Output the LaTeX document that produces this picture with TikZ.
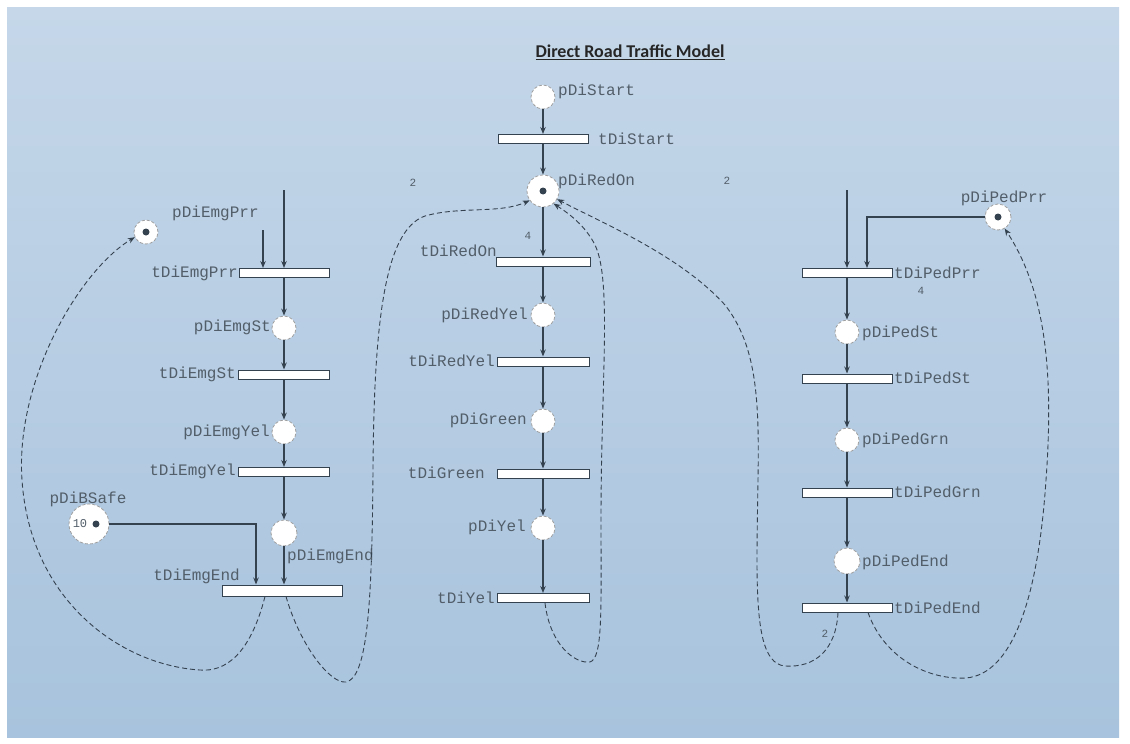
\documentclass[tikz,border=0pt]{standalone}
\usepackage{fontspec}
\setmainfont{Liberation Serif}
\newfontfamily\labelfont{Liberation Mono}
\newfontfamily\titlefont{Carlito}
\usetikzlibrary{arrows.meta}
\definecolor{ink}{HTML}{34414F}
\definecolor{bgtop}{HTML}{C5D7E9}
\definecolor{bgbot}{HTML}{A8C3DD}
\begin{document}
\begin{tikzpicture}[x=1pt,y=-1pt,
  pnode/.style={circle,draw=gray!75,densely dashed,fill=white,minimum size=24pt,inner sep=0pt,line width=0.8pt},
  tbar/.style={rectangle,draw=ink,fill=white,minimum width=90pt,minimum height=9pt,inner sep=0pt,line width=1pt},
  flow/.style={draw=ink,line width=1.1pt,-{Stealth[length=7pt,width=5.5pt]}},
  backflow/.style={flow,dash pattern=on 5pt off 3pt,line width=0.9pt},
  lbl/.style={font=\labelfont\fontsize{16}{16}\selectfont,text=ink!85,inner sep=1pt},
  wlbl/.style={font=\labelfont\fontsize{11}{11}\selectfont,text=ink!85,inner sep=1pt},
  tok/.style={circle,fill=ink,minimum size=7pt,inner sep=0pt}]

% page and background panel
\useasboundingbox (0,0) rectangle (1130,744);
\fill[white] (0,0) rectangle (1130,744);
\shade[top color=bgtop,bottom color=bgbot] (7,7) rectangle (1119,737);

% title
\node[font=\titlefont\fontsize{18}{18}\selectfont\bfseries,text=black!85] (title) at (630,52) {\underline{Direct Road Traffic Model}};

% ---------- centre column: main signal cycle ----------
\node[pnode] (pStart) at (543,97) {};
\node[tbar] (tStart) at (543,139) {};
\node[pnode,minimum size=32pt] (pRedOn) at (543,191) {};
\node[tbar,minimum width=94pt] (tRedOn) at (543,261.5) {};
\node[pnode] (pRedYel) at (543,315) {};
\node[tbar,minimum width=92pt] (tRedYel) at (543,361.5) {};
\node[pnode] (pGreen) at (543,421) {};
\node[tbar,minimum width=92pt] (tGreen) at (543,473.5) {};
\node[pnode] (pYel) at (543,528) {};
\node[tbar,minimum width=92pt] (tYel) at (543,598) {};
\node[tok] (kRedOn) at (pRedOn) {};

\node[lbl,anchor=west] (lpStart) at (557,91) {pDiStart};
\node[lbl,anchor=west] (ltStart) at (597,139) {tDiStart};
\node[lbl,anchor=west] (lpRedOn) at (557,181) {pDiRedOn};
\node[lbl,anchor=east] (ltRedOn) at (498,251) {tDiRedOn};
\node[lbl,anchor=east] (lpRedYel) at (529,315) {pDiRedYel};
\node[lbl,anchor=east] (ltRedYel) at (496,361) {tDiRedYel};
\node[lbl,anchor=east] (lpGreen) at (528,420) {pDiGreen};
\node[lbl,anchor=east] (ltGreen) at (486,473) {tDiGreen};
\node[lbl,anchor=east] (lpYel) at (527,527) {pDiYel};
\node[lbl,anchor=east] (ltYel) at (496,598) {tDiYel};

\draw[flow] (pStart) -- (tStart);
\draw[flow] (tStart) -- (pRedOn);
\draw[flow] (pRedOn) -- (tRedOn);
\draw[flow] (tRedOn) -- (pRedYel);
\draw[flow] (pRedYel) -- (tRedYel);
\draw[flow] (tRedYel) -- (pGreen);
\draw[flow] (pGreen) -- (tGreen);
\draw[flow] (tGreen) -- (pYel);
\draw[flow] (pYel) -- (tYel);

% ---------- left column: emergency priority ----------
\coordinate (inL) at (284,190);
\coordinate (inL2) at (263,230);
\node[pnode] (pEmgPrr) at (146,232) {};
\node[tok] (kEmgPrr) at (pEmgPrr) {};
\node[tbar] (tEmgPrr) at (284,273) {};
\node[pnode] (pEmgSt) at (284,328) {};
\node[tbar,minimum width=91pt] (tEmgSt) at (284,374.5) {};
\node[pnode] (pEmgYel) at (284,432) {};
\node[tbar,minimum width=91pt] (tEmgYel) at (284,472) {};
\node[pnode,minimum size=26pt] (pEmgEnd) at (284,533) {};
\node[tbar,minimum width=120pt,minimum height=11pt] (tEmgEnd) at (282,590.5) {};
\node[pnode,minimum size=40pt] (pBSafe) at (89,524) {};
\node[lbl,font=\labelfont\fontsize{12}{12}\selectfont] (nBSafe) at ([xshift=-9]pBSafe.center) {10};
\node[tok] (kBSafe) at ([xshift=7]pBSafe.center) {};

\node[lbl,anchor=west] (lpEmgPrr) at (171,213) {pDiEmgPrr};
\node[lbl,anchor=east] (ltEmgPrr) at (239,273) {tDiEmgPrr};
\node[lbl,anchor=east] (lpEmgSt) at (272,327) {pDiEmgSt};
\node[lbl,anchor=east] (ltEmgSt) at (237,374) {tDiEmgSt};
\node[lbl,anchor=east] (lpEmgYel) at (271,432) {pDiEmgYel};
\node[lbl,anchor=east] (ltEmgYel) at (237,471) {tDiEmgYel};
\node[lbl,anchor=west] (lpEmgEnd) at (286,556) {pDiEmgEnd};
\node[lbl,anchor=east] (ltEmgEnd) at (241,576) {tDiEmgEnd};
\node[lbl] (lpBSafe) at (88,499) {pDiBSafe};

\draw[flow] (inL) -- (inL |- tEmgPrr.north);
\draw[flow] (inL2) -- (inL2 |- tEmgPrr.north);
\draw[flow] (tEmgPrr) -- (pEmgSt);
\draw[flow] (pEmgSt) -- (tEmgSt);
\draw[flow] (tEmgSt) -- (pEmgYel);
\draw[flow] (pEmgYel) -- (tEmgYel);
\draw[flow] (tEmgYel) -- (pEmgEnd);
\draw[flow] (pEmgEnd) -- (pEmgEnd |- tEmgEnd.north);
\draw[flow] (pBSafe.east) -| ([xshift=-26]tEmgEnd.north);

% ---------- right column: pedestrian priority ----------
\coordinate (inR) at (847,190);
\node[pnode,minimum size=26pt] (pPedPrr) at (998,217) {};
\node[tok] (kPedPrr) at (pPedPrr) {};
\node[tbar] (tPedPrr) at (847,273) {};
\node[pnode] (pPedSt) at (847,332) {};
\node[tbar] (tPedSt) at (847,378.5) {};
\node[pnode] (pPedGrn) at (847,440) {};
\node[tbar] (tPedGrn) at (847,492.5) {};
\node[pnode,minimum size=26pt] (pPedEnd) at (847,561) {};
\node[tbar] (tPedEnd) at (847,607.5) {};

\node[lbl] (lpPedPrr) at (1004,198) {pDiPedPrr};
\node[lbl,anchor=west] (ltPedPrr) at (893,273) {tDiPedPrr};
\node[lbl,anchor=west] (lpPedSt) at (861,333) {pDiPedSt};
\node[lbl,anchor=west] (ltPedSt) at (893,378) {tDiPedSt};
\node[lbl,anchor=west] (lpPedGrn) at (861,440) {pDiPedGrn};
\node[lbl,anchor=west] (ltPedGrn) at (893,492) {tDiPedGrn};
\node[lbl,anchor=west] (lpPedEnd) at (861,562) {pDiPedEnd};
\node[lbl,anchor=west] (ltPedEnd) at (893,608) {tDiPedEnd};

\draw[flow] (inR) -- (inR |- tPedPrr.north);
\draw[flow] (pPedPrr.west) -| ([xshift=20]tPedPrr.north);
\draw[flow] (tPedPrr) -- (pPedSt);
\draw[flow] (pPedSt) -- (tPedSt);
\draw[flow] (tPedSt) -- (pPedGrn);
\draw[flow] (pPedGrn) -- (tPedGrn);
\draw[flow] (tPedGrn) -- (pPedEnd);
\draw[flow] (pPedEnd) -- (tPedEnd);

% ---------- arc weights ----------
\node[wlbl] (w1) at (413,183) {2};
\node[wlbl] (w2) at (727,181) {2};
\node[wlbl] (w3) at (528,236) {4};
\node[wlbl] (w4) at (921,291) {4};
\node[wlbl] (w5) at (825,634) {2};

% ---------- dashed return arcs ----------
\draw[backflow] ([xshift=-17]tEmgEnd.south) .. controls (250,655) and (225,672) .. (200,670)
  .. controls (120,665) and (30,600) .. (22,480)
  .. controls (15,380) and (80,270) .. (pEmgPrr.205);
\draw[backflow] ([xshift=4]tEmgEnd.south) .. controls (300,645) and (330,684) .. (346,682)
  .. controls (368,678) and (372,600) .. (373,470)
  .. controls (374,320) and (385,230) .. (425,216)
  .. controls (460,206) and (500,214) .. (pRedOn.215);
\draw[backflow] ([xshift=2]tYel.south) .. controls (550,645) and (575,664) .. (590,662)
  .. controls (603,658) and (601,610) .. (601,520)
  .. controls (601,380) and (612,280) .. (595,245)
  .. controls (585,225) and (568,213) .. (pRedOn.310);
\draw[backflow] ([xshift=-9]tPedEnd.south) .. controls (836,650) and (815,668) .. (785,666)
  .. controls (762,664) and (757,625) .. (757,560)
  .. controls (757,440) and (768,360) .. (725,305)
  .. controls (680,255) and (600,222) .. (pRedOn.330);
\draw[backflow] ([xshift=21]tPedEnd.south) .. controls (885,660) and (930,680) .. (966,678)
  .. controls (1012,674) and (1038,600) .. (1046,480)
  .. controls (1054,370) and (1045,290) .. (pPedPrr.300);
\end{tikzpicture}
\end{document}
